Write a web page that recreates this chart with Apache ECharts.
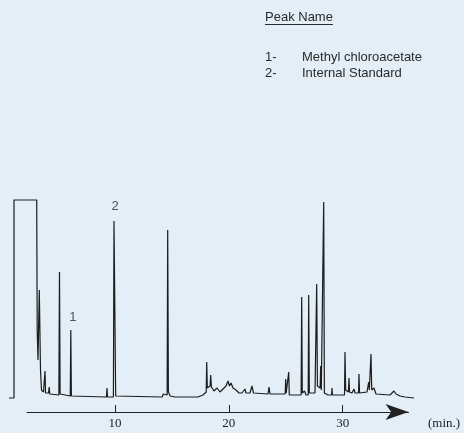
<!DOCTYPE html>
<html><head><meta charset="utf-8">
<script src="https://cdn.jsdelivr.net/npm/echarts@6/dist/echarts.min.js"></script>
<style>html,body{margin:0;padding:0;background:#e3eef6}#c{width:464px;height:433px}</style>
</head><body><div id="c"></div>
<script>
// retention time (min) and detector signal (arbitrary units)
const timeMin = [0.690,1.129,1.129,3.123,3.166,3.237,3.351,3.395,3.456,3.544,3.720,3.820,3.852,3.900,4.159,4.220,4.270,5.070,5.125,5.180,5.345,6.070,6.118,6.170,9.250,9.297,9.340,9.860,9.912,10.000,10.060,14.150,14.242,14.300,14.580,14.629,14.690,14.850,15.270,17.290,17.730,18.010,18.055,18.110,18.350,18.406,18.470,18.696,18.959,19.223,19.486,19.750,19.925,20.057,20.189,20.365,20.628,20.892,21.155,21.418,21.506,21.858,22.033,22.165,23.439,23.527,23.615,24.950,24.993,25.040,25.210,25.257,25.310,26.162,26.350,26.398,26.450,26.645,26.776,26.970,27.013,27.070,27.567,27.670,27.716,27.780,27.857,28.020,28.067,28.120,28.280,28.331,28.390,28.709,29.020,29.060,29.100,30.160,30.202,30.260,30.333,30.500,30.553,30.600,30.817,30.992,31.080,31.390,31.431,31.480,32.134,32.284,32.340,32.440,32.486,32.550,32.749,32.925,34.154,34.506,34.681,35.033,35.472,36.263];
const signal  = [0,0,198,198,68,38,108,109,28,8,6,6,27,5,5,11,4,3,126,4,2,2,68,2,1,10,1,1,177,177,2,1,4,2,3,168,6,2,1,1,3,6,36,10,12,23,11,7,10,6,9,12,17,12,15,10,8,5,5,9,5,5,12,5,4,11,4,4,19,5,5,26,3,3,3,101,5,7,3,3,103,5,5,5,114,12,13,10,32,8,8,196,5,3,3,10,3,3,46,8,8,6,20,6,5,9,5,5,24,5,6,16,8,8,44,8,10,4,3,7,4,2,1,0];

const peakLabels = ['1','2'];
const peakLabelTime = [6.31, 10.0];
const peakLabelSignal = [81, 191.5];

const tickValues = [10, 20, 30];
const axisName = '(min.)';

const legendTitle = 'Peak Name';
const legendNums = ['1-','2-'];
const legendNames = ['Methyl chloroacetate','Internal Standard'];

const chart = echarts.init(document.getElementById('c'), null, {renderer:'canvas'});
const trace = timeMin.map((t,i)=>[t, signal[i]]);
const labelData = peakLabels.map((n,i)=>({name:n, value:[peakLabelTime[i], peakLabelSignal[i]]}));

const sans = 'Liberation Sans';
const textCol = '#2a2a2a';
const graphics = [
  {type:'text', left:265, top:11, style:{text:legendTitle, font:'13px "Liberation Sans"', fill:textCol}},
  {type:'line', shape:{x1:265,y1:24.5,x2:333,y2:24.5}, style:{stroke:textCol, lineWidth:1}}
];
legendNums.forEach((n,i)=>{
  graphics.push({type:'text', left:265, top:51+i*16, style:{text:n, font:'13px "Liberation Sans"', fill:textCol}});
  graphics.push({type:'text', left:302, top:51+i*16, style:{text:legendNames[i], font:'13px "Liberation Sans"', fill:textCol}});
});

chart.setOption({
  backgroundColor:'#e3eef6',
  animation:false,
  grid:[
    {left:8, right:44, top:198, bottom:35},
    {left:27, right:55.5, top:198, bottom:21}
  ],
  xAxis:[
    {gridIndex:0, type:'value', min:0.602, max:36.79, show:false},
    {gridIndex:1, type:'value', min:2.271, max:35.78,
     axisLine:{show:true, symbol:['none','arrow'], symbolSize:[12,23], lineStyle:{color:'#222', width:1}},
     axisTick:{show:true, inside:true, length:7, customValues:tickValues, lineStyle:{color:'#222'}},
     axisLabel:{show:true, customValues:tickValues, margin:5, fontFamily:'Liberation Serif', fontSize:13, color:'#222'},
     splitLine:{show:false},
     name:axisName, nameLocation:'end', nameGap:19.5,
     nameTextStyle:{fontFamily:'Liberation Serif', fontSize:13, color:'#222', verticalAlign:'top', padding:[5,0,0,0]}
    }
  ],
  yAxis:[
    {gridIndex:0, type:'value', min:0, max:200, show:false},
    {gridIndex:1, type:'value', min:0, max:200, show:false}
  ],
  graphic: graphics,
  series:[
    {type:'line', xAxisIndex:0, yAxisIndex:0, data:trace, showSymbol:false, symbol:'none', clip:false,
     lineStyle:{color:'#1c1c1c', width:1.2}},
    {type:'scatter', xAxisIndex:0, yAxisIndex:0, data:labelData, symbolSize:0,
     label:{show:true, position:'inside', formatter:'{b}', fontFamily:sans, fontSize:13, color:textCol}}
  ]
});
</script>
</body></html>
